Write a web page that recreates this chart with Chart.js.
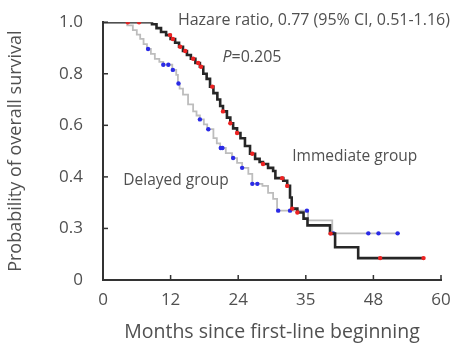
<!DOCTYPE html>
<html>
<head>
<meta charset="utf-8">
<script src="https://cdn.jsdelivr.net/npm/chart.js@4/dist/chart.umd.min.js"></script>
<style>
  html, body { margin: 0; padding: 0; background: #fff; }
  #wrap { width: 453px; height: 348px; }
</style>
</head>
<body>
<div id="wrap"><canvas id="kmChart"></canvas></div>
<script>
// immediate group: month of each drop and survival after it
var immMonths = [0, 8.7, 9.5, 10.3, 11.2, 12.0, 12.8, 13.5, 14.2, 14.9, 15.6, 16.4, 17.2, 17.8, 18.4, 19.0, 19.6, 20.3, 20.8, 21.3, 22.0, 22.6, 23.1, 23.8, 24.4, 25.2, 26.1, 27.0, 27.8, 28.4, 29.3, 30.2, 30.6, 32.0, 32.7, 33.2, 33.5, 34.5, 35.6, 36.3, 40.3, 41.2, 45.3, 56.9];
var immSurv   = [1.0, 0.992, 0.977, 0.962, 0.950, 0.935, 0.920, 0.905, 0.888, 0.873, 0.858, 0.842, 0.827, 0.800, 0.780, 0.750, 0.725, 0.700, 0.675, 0.654, 0.630, 0.608, 0.588, 0.570, 0.550, 0.520, 0.490, 0.470, 0.458, 0.450, 0.435, 0.423, 0.395, 0.385, 0.365, 0.320, 0.277, 0.262, 0.238, 0.212, 0.180, 0.127, 0.085, 0.085];
// immediate group censored patients
var immCensMonths = [4.4, 6.4, 11.9, 12.4, 13.7, 14.6, 16.0, 16.9, 17.4, 19.4, 21.3, 22.6, 23.8, 26.5, 28.4, 31.8, 32.7, 33.6, 34.5, 40.4, 49.2, 56.9];
var immCensSurv   = [1.0, 1.0, 0.950, 0.935, 0.905, 0.888, 0.858, 0.842, 0.827, 0.750, 0.654, 0.608, 0.570, 0.490, 0.450, 0.395, 0.365, 0.277, 0.262, 0.180, 0.085, 0.085];

// delayed group
var delMonths = [0, 4.3, 5.3, 6.0, 6.6, 7.2, 7.8, 8.5, 9.2, 10.0, 10.7, 12.3, 13.0, 13.3, 13.6, 14.2, 15.1, 16.0, 16.6, 17.2, 17.9, 18.5, 19.6, 20.2, 20.8, 21.8, 22.9, 23.8, 24.7, 25.8, 26.5, 28.3, 29.3, 30.2, 30.9, 36.4, 40.7, 52.3];
var delSurv   = [1.0, 0.988, 0.969, 0.952, 0.935, 0.915, 0.896, 0.877, 0.858, 0.846, 0.835, 0.815, 0.796, 0.762, 0.742, 0.719, 0.681, 0.654, 0.638, 0.623, 0.604, 0.585, 0.550, 0.530, 0.512, 0.492, 0.473, 0.454, 0.435, 0.412, 0.373, 0.365, 0.338, 0.315, 0.269, 0.231, 0.181, 0.181];
var delCensMonths = [8.0, 10.7, 11.6, 12.4, 13.4, 17.2, 18.7, 20.9, 21.2, 23.1, 24.7, 26.5, 27.4, 31.1, 33.2, 36.2, 40.9, 47.1, 48.9, 52.3];
var delCensSurv   = [0.896, 0.835, 0.835, 0.815, 0.762, 0.623, 0.585, 0.512, 0.512, 0.473, 0.435, 0.373, 0.373, 0.269, 0.269, 0.269, 0.181, 0.181, 0.181, 0.181];

var xTickLabels = ["0", "12", "24", "35", "48", "60"];
var yTickLabels = ["0", "0.3", "0.4", "0.6", "0.8", "1.0"];

var txtColor = "#505050";
var fontFam = "'Open Sans', sans-serif";

function pts(xs, ys) {
  return xs.map(function (x, i) { return {x: x, y: ys[i]}; });
}

// short tick marks pointing into the plot
var innerTicks = {
  id: "innerTicks",
  afterDatasetsDraw: function (chart) {
    var ctx = chart.ctx, a = chart.chartArea;
    var xs = chart.scales.x, ys = chart.scales.y;
    ctx.save();
    ctx.strokeStyle = "#333";
    ctx.lineWidth = 1.5;
    xs.ticks.forEach(function (t) {
      var px = xs.getPixelForValue(t.value);
      ctx.beginPath(); ctx.moveTo(px, a.bottom); ctx.lineTo(px, a.bottom - 5); ctx.stroke();
    });
    ys.ticks.forEach(function (t) {
      var py = ys.getPixelForValue(t.value);
      ctx.beginPath(); ctx.moveTo(a.left, py); ctx.lineTo(a.left + 5, py); ctx.stroke();
    });
    ctx.restore();
  }
};

// hazard ratio text and group names
var notes = {
  id: "notes",
  afterDatasetsDraw: function (chart) {
    var ctx = chart.ctx;
    var xs = chart.scales.x, ys = chart.scales.y;
    ctx.save();
    ctx.fillStyle = txtColor;
    ctx.textBaseline = "middle";
    ctx.textAlign = "left";
    ctx.font = "16px " + fontFam;
    ctx.fillText("Hazare ratio, 0.77 (95% CI, 0.51-1.16)", xs.getPixelForValue(13.3), ys.getPixelForValue(1.008));
    var px = xs.getPixelForValue(21.2), py = ys.getPixelForValue(0.865);
    ctx.font = "italic 16px " + fontFam;
    ctx.fillText("P", px, py);
    var w = ctx.measureText("P").width;
    ctx.font = "16px " + fontFam;
    ctx.fillText("=0.205", px + w, py);
    ctx.font = "15.5px " + fontFam;
    ctx.fillText("Immediate group", xs.getPixelForValue(33.6), ys.getPixelForValue(0.477));
    ctx.fillText("Delayed group", xs.getPixelForValue(3.6), ys.getPixelForValue(0.385));
    ctx.restore();
  }
};

new Chart("kmChart", {
  type: "line",
  data: {
    datasets: [
      {
        label: "Delayed group",
        data: pts(delMonths, delSurv),
        stepped: "before",
        borderColor: "#bdbdbd",
        borderWidth: 1.8,
        pointRadius: 0,
        fill: false,
        order: 4
      },
      {
        type: "scatter",
        label: "Delayed censored",
        data: pts(delCensMonths, delCensSurv),
        backgroundColor: "#2a2ae6",
        borderWidth: 0,
        pointRadius: 2.2,
        order: 3
      },
      {
        label: "Immediate group",
        data: pts(immMonths, immSurv),
        stepped: "before",
        borderColor: "#262626",
        borderWidth: 2.6,
        pointRadius: 0,
        fill: false,
        order: 2
      },
      {
        type: "scatter",
        label: "Immediate censored",
        data: pts(immCensMonths, immCensSurv),
        backgroundColor: "#ee2222",
        borderWidth: 0,
        pointRadius: 2.2,
        order: 1
      }
    ]
  },
  options: {
    responsive: true,
    maintainAspectRatio: false,
    animation: false,
    layout: {padding: {top: 20, right: 12, left: 0, bottom: 0}},
    plugins: {
      legend: {display: false},
      tooltip: {enabled: false}
    },
    scales: {
      x: {
        type: "linear",
        min: 0,
        max: 60,
        grid: {display: false},
        border: {display: true, color: "#333", width: 2},
        ticks: {
          stepSize: 12,
          padding: 2,
          color: txtColor,
          font: {family: fontFam, size: 17},
          callback: function (v, i) { return xTickLabels[i]; }
        },
        title: {
          display: true,
          text: "Months since first-line beginning",
          color: txtColor,
          font: {family: fontFam, size: 19.5},
          padding: {top: 0, bottom: 4}
        },
        afterFit: function (s) { s.height = 68; }
      },
      y: {
        min: 0,
        max: 1,
        grid: {display: false},
        border: {display: true, color: "#333", width: 2},
        ticks: {
          stepSize: 0.2,
          padding: 12,
          color: txtColor,
          font: {family: fontFam, size: 17},
          callback: function (v, i) { return yTickLabels[i]; }
        },
        title: {
          display: true,
          text: "Probability of overall survival",
          color: txtColor,
          font: {family: fontFam, size: 18},
          padding: {top: 5, bottom: 0}
        },
        afterFit: function (s) { s.width = 103; }
      }
    }
  },
  plugins: [innerTicks, notes]
});
</script>
</body>
</html>
